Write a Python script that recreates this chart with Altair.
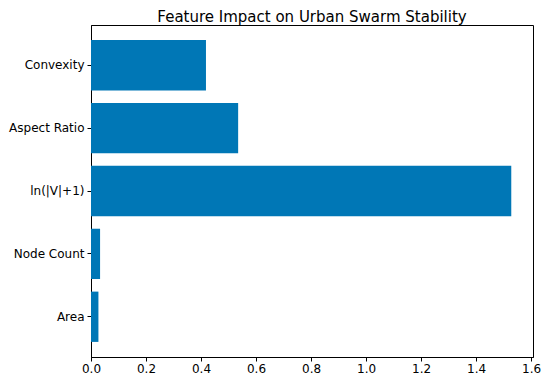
import altair as alt
import pandas as pd

categories = ["Area", "Node Count", "ln(|V|+1)", "Aspect Ratio", "Convexity"]
values = [0.027, 0.033, 1.528, 0.535, 0.418]
x_ticks = [0.0, 0.2, 0.4, 0.6, 0.8, 1.0, 1.2, 1.4, 1.6]

df = pd.DataFrame({"feature": categories, "impact": values})

chart = alt.Chart(df).mark_bar(color="#0077b6").encode(
    x=alt.X(
        "impact:Q",
        scale=alt.Scale(domain=[0, 1.607], nice=False, zero=True),
        axis=alt.Axis(values=x_ticks, format=".1f", title=None, grid=False,
                      tickSize=4, labelPadding=2, domainColor="black",
                      tickColor="black", labelColor="black", labelFontSize=12,
                      labelFont="DejaVu Sans", labelFlush=False),
    ),
    y=alt.Y(
        "feature:N",
        sort=list(reversed(categories)),
        scale=alt.Scale(paddingInner=0.2, paddingOuter=0.24),
        axis=alt.Axis(title=None, grid=False, tickSize=4, labelPadding=3,
                      domainColor="black", tickColor="black", labelColor="black",
                      labelFontSize=12, labelFont="DejaVu Sans"),
    ),
).properties(
    width=442,
    height=332,
    background="white",
    title=alt.TitleParams("Feature Impact on Urban Swarm Stability", font="DejaVu Sans",
                          fontSize=15, fontWeight="normal", color="black",
                          anchor="middle", offset=0),
    autosize=alt.AutoSizeParams(type="none"),
    padding={"left": 83, "top": 17, "right": 9, "bottom": 19},
).configure_view(stroke="black", strokeWidth=1)

chart.save("out.html", embed_options={"renderer": "svg", "actions": False})
